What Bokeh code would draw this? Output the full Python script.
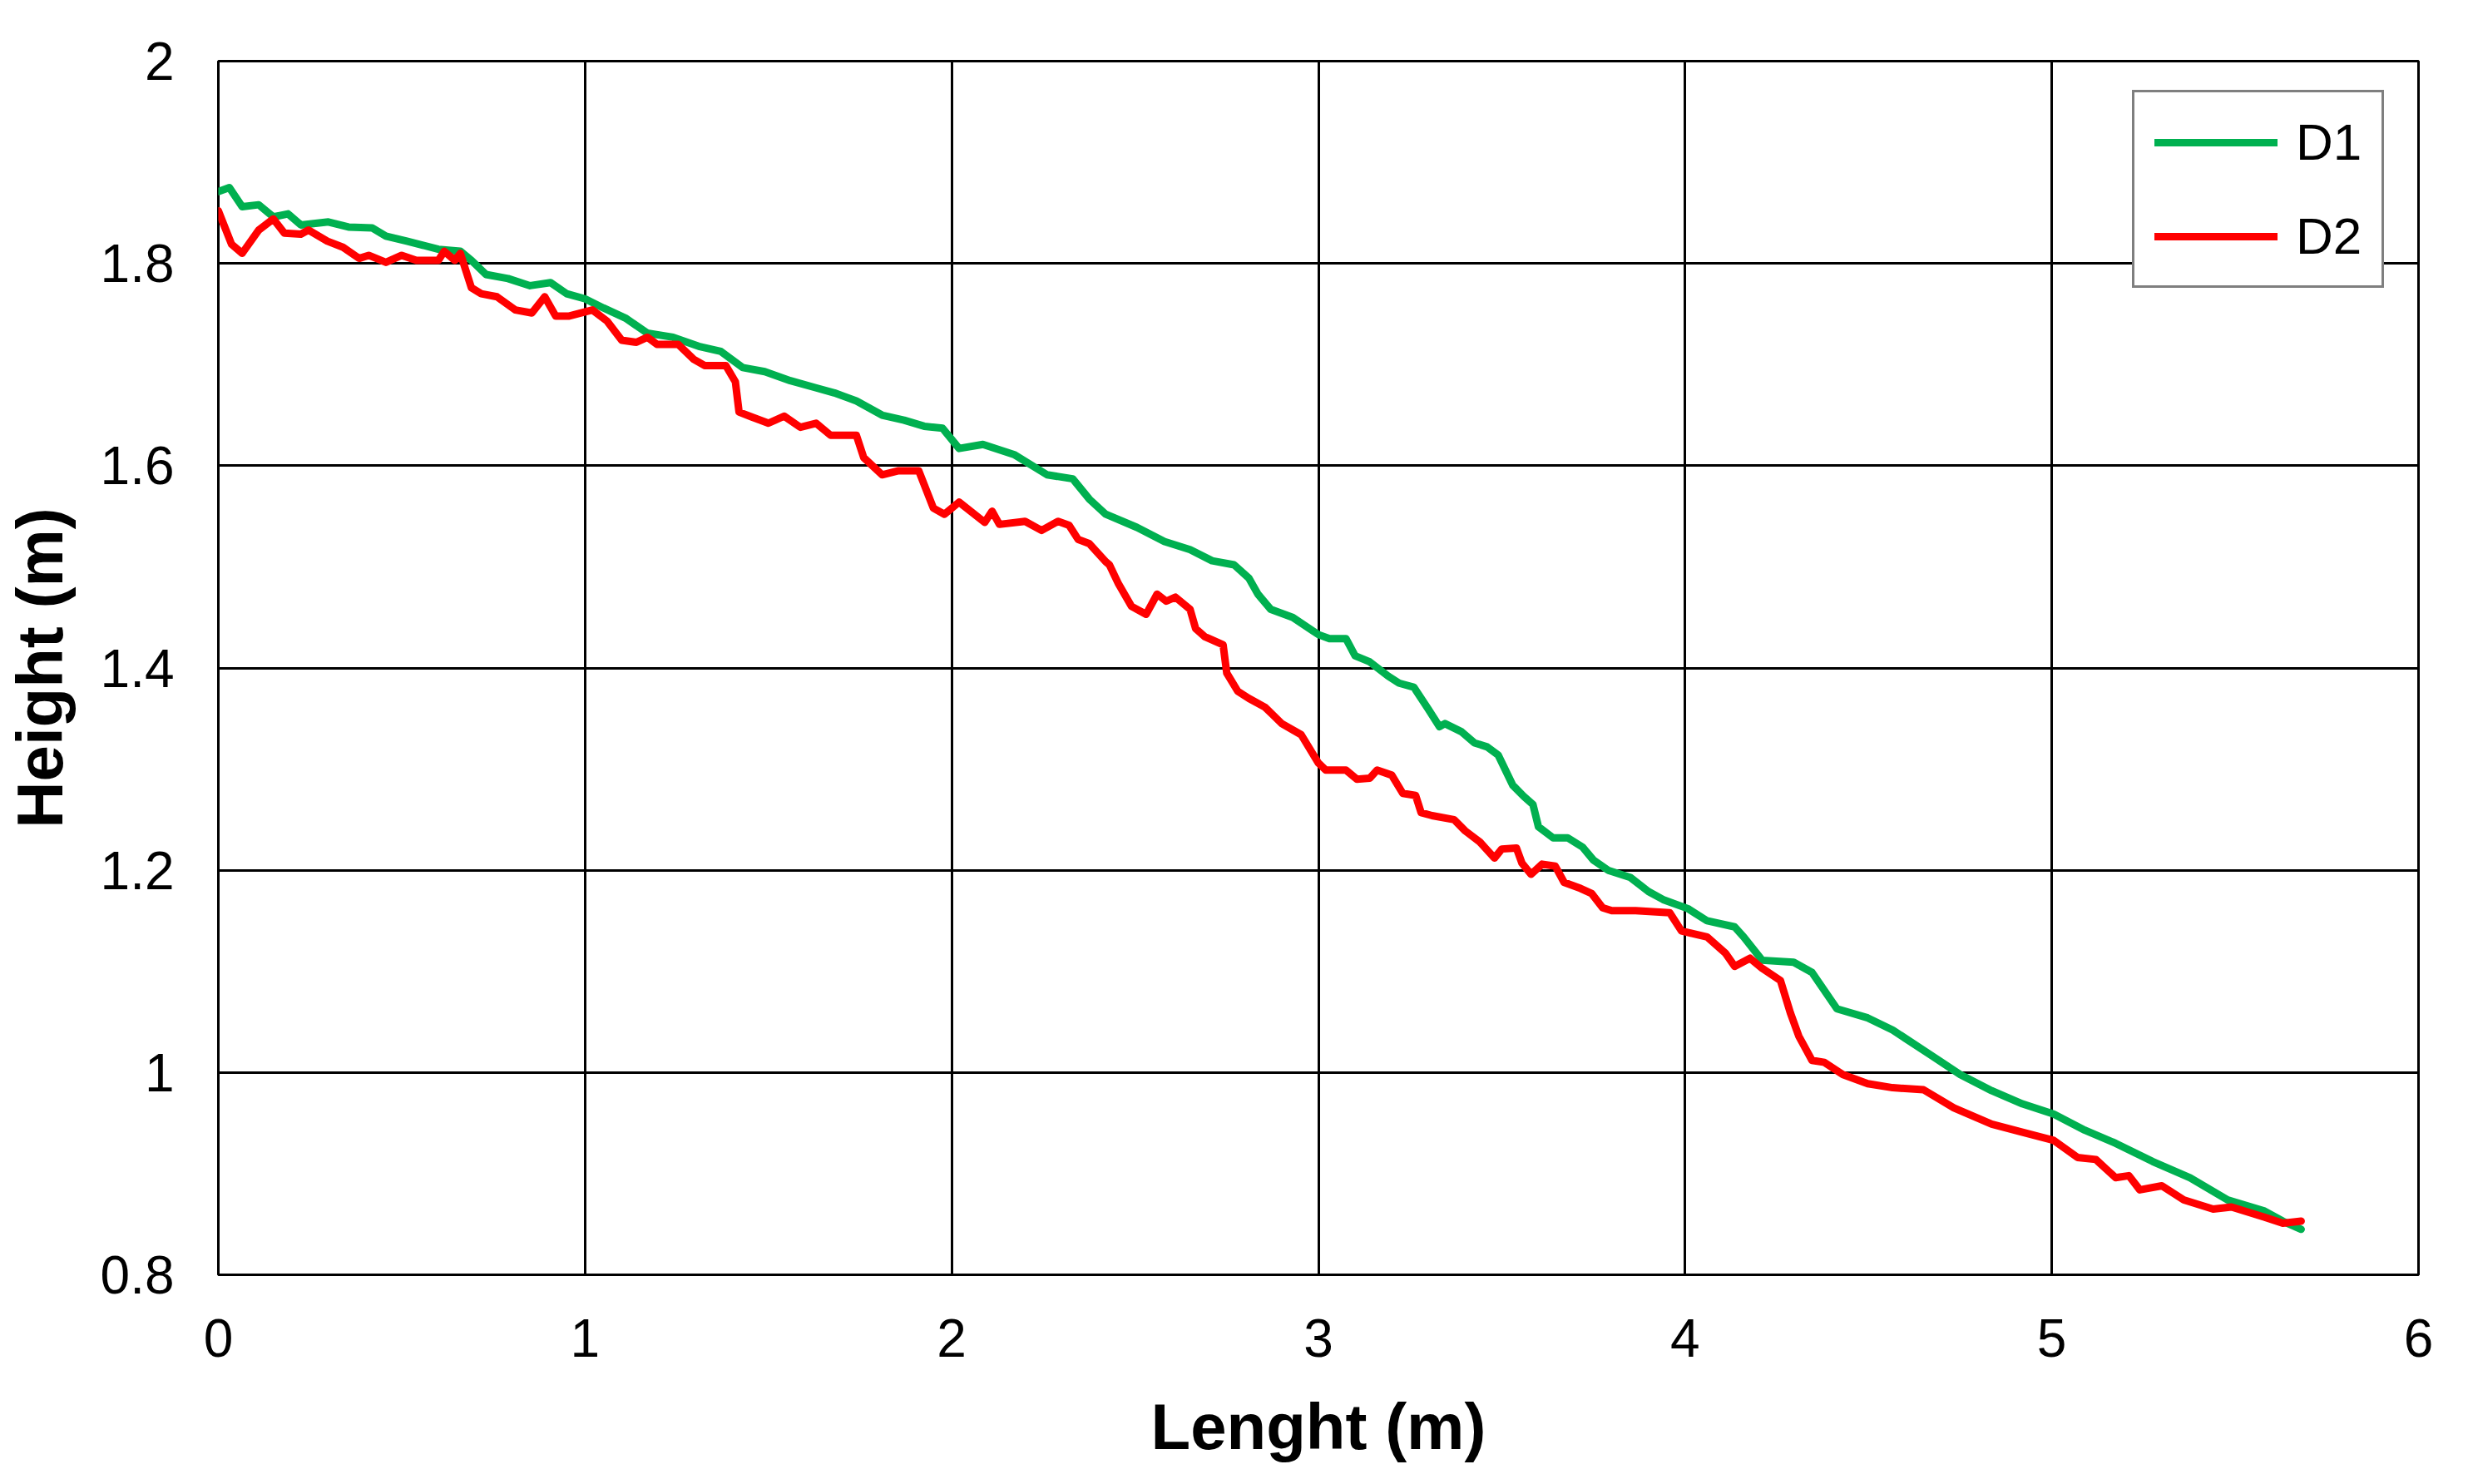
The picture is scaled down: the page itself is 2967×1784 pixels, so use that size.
from bokeh.plotting import figure
from bokeh.models import Range1d, FixedTicker, Legend, LegendItem
from bokeh.embed import file_html
from bokeh.resources import INLINE

# ---- data ----
d1_length = [0.0, 0.03, 0.065, 0.11, 0.15, 0.19, 0.225, 0.30, 0.355, 0.42, 0.457, 0.514, 0.558, 0.60,
             0.66, 0.69, 0.73, 0.79, 0.85, 0.906, 0.95, 1.0, 1.05, 1.11, 1.17, 1.24, 1.31, 1.37, 1.43,
             1.49, 1.56, 1.63, 1.68, 1.74, 1.81, 1.87, 1.925, 1.975, 2.02, 2.085, 2.17, 2.26, 2.33,
             2.375, 2.42, 2.505, 2.58, 2.65, 2.71, 2.77, 2.81, 2.835, 2.87, 2.93, 3.0, 3.03, 3.075,
             3.1, 3.14, 3.19, 3.22, 3.26, 3.30, 3.33, 3.345, 3.39, 3.425, 3.46, 3.49, 3.53, 3.56,
             3.585, 3.60, 3.64, 3.68, 3.72, 3.75, 3.79, 3.85, 3.90, 3.94, 4.008, 4.06, 4.135, 4.16,
             4.21, 4.296, 4.346, 4.414, 4.498, 4.566, 4.667, 4.75, 4.836, 4.92, 5.005, 5.09, 5.174,
             5.275, 5.377, 5.48, 5.58, 5.63, 5.68]
d1_height = [1.871, 1.875, 1.856, 1.858, 1.846, 1.849, 1.838, 1.841, 1.836, 1.835, 1.827, 1.822, 1.818,
             1.814, 1.812, 1.803, 1.789, 1.785, 1.778, 1.781, 1.770, 1.765, 1.756, 1.746, 1.731, 1.727,
             1.718, 1.713, 1.697, 1.693, 1.684, 1.677, 1.672, 1.664, 1.650, 1.645, 1.639, 1.637, 1.617,
             1.621, 1.611, 1.591, 1.587, 1.567, 1.552, 1.539, 1.525, 1.517, 1.506, 1.502, 1.489, 1.473,
             1.458, 1.450, 1.433, 1.429, 1.429, 1.412, 1.406, 1.392, 1.385, 1.381, 1.359, 1.342, 1.345,
             1.337, 1.326, 1.322, 1.314, 1.284, 1.273, 1.265, 1.243, 1.232, 1.232, 1.223, 1.210, 1.200,
             1.193, 1.179, 1.171, 1.162, 1.150, 1.144, 1.134, 1.111, 1.109, 1.099, 1.063, 1.054, 1.042,
             1.018, 0.998, 0.982, 0.969, 0.959, 0.943, 0.930, 0.912, 0.896, 0.874, 0.863, 0.853, 0.845]

d2_length = [0.0, 0.036, 0.065, 0.11, 0.15, 0.18, 0.225, 0.246, 0.297, 0.34, 0.384, 0.41, 0.457, 0.5,
             0.54, 0.6, 0.616, 0.645, 0.66, 0.69, 0.717, 0.76, 0.81, 0.855, 0.89, 0.92, 0.957, 1.02,
             1.06, 1.1, 1.14, 1.17, 1.196, 1.254, 1.297, 1.326, 1.384, 1.41, 1.42, 1.456, 1.5, 1.543,
             1.587, 1.63, 1.67, 1.74, 1.76, 1.81, 1.855, 1.91, 1.95, 1.98, 2.02, 2.09, 2.11, 2.13, 2.2,
             2.245, 2.29, 2.32, 2.345, 2.375, 2.42, 2.43, 2.455, 2.49, 2.53, 2.56, 2.585, 2.61, 2.65,
             2.665, 2.69, 2.74, 2.75, 2.78, 2.81, 2.855, 2.9, 2.953, 3.0, 3.02, 3.075, 3.105, 3.14,
             3.16, 3.2, 3.23, 3.265, 3.28, 3.31, 3.37, 3.4, 3.44, 3.48, 3.5, 3.54, 3.555, 3.58, 3.61,
             3.646, 3.67, 3.715, 3.745, 3.775, 3.8, 3.865, 3.958, 3.99, 4.06, 4.11, 4.135, 4.177, 4.21,
             4.26, 4.287, 4.31, 4.346, 4.38, 4.43, 4.498, 4.566, 4.65, 4.733, 4.836, 4.92, 5.005, 5.07,
             5.12, 5.174, 5.21, 5.24, 5.3, 5.36, 5.44, 5.49, 5.58, 5.63, 5.68]
d2_height = [1.852, 1.819, 1.810, 1.833, 1.844, 1.830, 1.829, 1.833, 1.822, 1.816, 1.805, 1.808, 1.801,
             1.808, 1.803, 1.803, 1.812, 1.803, 1.810, 1.776, 1.770, 1.767, 1.754, 1.751, 1.767, 1.748,
             1.748, 1.754, 1.743, 1.724, 1.722, 1.727, 1.720, 1.720, 1.705, 1.699, 1.699, 1.683, 1.653,
             1.648, 1.642, 1.649, 1.638, 1.642, 1.630, 1.630, 1.608, 1.591, 1.595, 1.595, 1.558, 1.552,
             1.564, 1.544, 1.555, 1.542, 1.545, 1.536, 1.545, 1.541, 1.527, 1.523, 1.505, 1.502, 1.483,
             1.461, 1.453, 1.473, 1.466, 1.470, 1.458, 1.439, 1.431, 1.423, 1.395, 1.377, 1.370, 1.361,
             1.345, 1.334, 1.306, 1.299, 1.299, 1.290, 1.291, 1.299, 1.294, 1.276, 1.274, 1.257, 1.254,
             1.250, 1.239, 1.228, 1.212, 1.221, 1.222, 1.207, 1.196, 1.206, 1.204, 1.188, 1.182, 1.177,
             1.163, 1.160, 1.160, 1.158, 1.140, 1.134, 1.118, 1.105, 1.113, 1.103, 1.091, 1.059, 1.036,
             1.012, 1.010, 0.998, 0.989, 0.985, 0.983, 0.965, 0.949, 0.941, 0.933, 0.916, 0.914, 0.896,
             0.898, 0.884, 0.888, 0.874, 0.865, 0.867, 0.857, 0.851, 0.853]

series_names = ["D1", "D2"]
series_colors = ["#00B050", "#FF0000"]

x_ticks = [0, 1, 2, 3, 4, 5, 6]
x_tick_labels = ["0", "1", "2", "3", "4", "5", "6"]
y_ticks = [0.8, 1.0, 1.2, 1.4, 1.6, 1.8, 2.0]
y_tick_labels = ["0.8", "1", "1.2", "1.4", "1.6", "1.8", "2"]

x_title = "Lenght (m)"
y_title = "Height (m)"

FONT = "Liberation Sans"

p = figure(width=2951, height=1768, output_backend="svg", toolbar_location=None,
           x_range=Range1d(x_ticks[0], x_ticks[-1]), y_range=Range1d(y_ticks[0], y_ticks[-1]),
           min_border_left=257, min_border_right=44, min_border_top=73, min_border_bottom=236)

p.background_fill_color = "white"
p.border_fill_color = "white"
p.outline_line_color = "black"
p.outline_line_width = 3

for ax, ticks, labels in ((p.xaxis[0], x_ticks, x_tick_labels), (p.yaxis[0], y_ticks, y_tick_labels)):
    ax.ticker = FixedTicker(ticks=ticks)
    ax.major_label_overrides = {t: l for t, l in zip(ticks, labels)}
    ax.axis_line_color = None
    ax.major_tick_line_color = None
    ax.minor_tick_line_color = None
    ax.major_tick_out = 0
    ax.major_tick_in = 0
    ax.minor_tick_out = 0
    ax.major_label_text_font = FONT
    ax.major_label_text_font_size = "64px"
    ax.major_label_text_color = "black"
    ax.axis_label_text_font = FONT
    ax.axis_label_text_font_size = "78px"
    ax.axis_label_text_font_style = "bold"
    ax.axis_label_text_color = "black"

p.xaxis[0].axis_label = x_title
p.yaxis[0].axis_label = y_title
p.xaxis[0].major_label_standoff = 53
p.yaxis[0].major_label_standoff = 53
p.xaxis[0].axis_label_standoff = 37
p.yaxis[0].axis_label_standoff = 26

for g in (p.xgrid[0], p.ygrid[0]):
    g.grid_line_color = "black"
    g.grid_line_width = 3
    g.grid_line_alpha = 1.0

renderers = []
for xs, ys, c in ((d1_length, d1_height, series_colors[0]), (d2_length, d2_height, series_colors[1])):
    r = p.line(xs, ys, line_color=c, line_width=9, line_join="round", line_cap="round")
    renderers.append(r)

legend = Legend(items=[LegendItem(label=n, renderers=[r]) for n, r in zip(series_names, renderers)],
                location=(2301, 1186))
legend.border_line_color = "black"
legend.border_line_width = 3
legend.background_fill_color = "white"
legend.background_fill_alpha = 1.0
legend.label_text_font = FONT
legend.label_text_font_size = "62px"
legend.label_text_color = "black"
legend.glyph_width = 148
legend.glyph_height = 60
legend.label_height = 60
legend.label_standoff = 22
legend.spacing = 42
legend.padding = 24
legend.margin = 0
p.add_layout(legend)

open("out.html", "w").write(file_html(p, INLINE))
